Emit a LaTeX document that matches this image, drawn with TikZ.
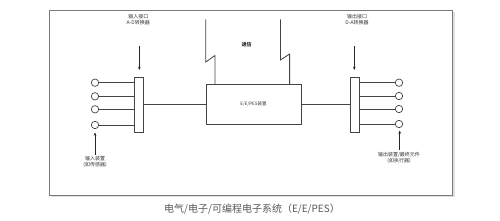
\documentclass[tikz,border=0pt]{standalone}
\usepackage{fontspec}
\setmainfont{Noto Sans CJK SC}
\newfontfamily\cjk{Noto Sans CJK SC}
\usetikzlibrary{arrows.meta}
\definecolor{ln}{HTML}{444444}
\definecolor{fr}{HTML}{7A7A7A}
\tikzset{
  wire/.style={draw=ln, line width=0.8pt},
  bar/.style={draw=ln, line width=0.8pt, fill=white, minimum width=9pt, minimum height=54.6pt, inner sep=0pt, outer sep=0pt},
  box/.style={draw=ln, line width=0.8pt, fill=white, minimum width=95pt, minimum height=40pt, inner sep=0pt, outer sep=0pt},
  term/.style={circle, draw=ln, line width=0.7pt, minimum size=7.4pt, inner sep=0pt, outer sep=0pt, fill=white},
  lbl/.style={font=\cjk\fontsize{5}{6}\selectfont, text=black!80, align=center, inner sep=0pt},
  arr/.style={draw=black!85, line width=0.7pt, -{Stealth[length=3.2pt,width=2.6pt]}},
}
\begin{document}
\begin{tikzpicture}[x=1pt,y=-1pt]
\useasboundingbox (0,0) rectangle (500,221);
\fill[white] (0,0) rectangle (500,221);
% shadow + frame
\fill[black!12] (51,12) rectangle (454.5,197);
\draw[fr, line width=0.9pt, fill=white] (49.3,10) rectangle (452.3,195);

% bars and box
\node[bar] (lbar) at (138.8,105) {};
\node[bar] (rbar) at (355,105) {};
\node[box] (core) at (253.5,104.3) {};
\node[lbl, font=\cjk\fontsize{4.5}{5}\selectfont] (corel) at (core.center) {E/E/PES装置};

% left terminals
\foreach \i/\yy in {1/82.7,2/96.3,3/109.3,4/125} {
  \node[term] (lt\i) at (95,\yy) {};
  \coordinate (lb\i) at (lbar.west |- lt\i);
  \draw[wire] (lt\i) -- (lb\i);
}
% right terminals
\foreach \i/\yy in {1/82.7,2/96,3/109,4/124} {
  \node[term] (rt\i) at (399,\yy) {};
  \coordinate (rb\i) at (rbar.east |- rt\i);
  \draw[wire] (rb\i) -- (rt\i);
}

% bar to core
\draw[wire] (lbar.east |- core.west) -- (core.west);
\draw[wire] (core.east) -- (rbar.west |- core.east);

% communication lines
\coordinate (c1a) at (205.8,19.3);
\coordinate (c1b) at (205.8,62);
\coordinate (c1c) at (215,55.5);
\coordinate (c2a) at (280.5,19.3);
\coordinate (c2b) at (280.5,60);
\coordinate (c2c) at (289.6,54);
\draw[wire] (c1a) -- (c1b) -- (c1c) -- (c1c |- core.north);
\draw[wire] (c2a) -- (c2b) -- (c2c) -- (c2c |- core.north);
\node[lbl, font=\cjk\bfseries\fontsize{5}{6}\selectfont] (comm) at (246.7,44.3) {通信};

% top labels and arrows
\node[lbl] (inif) at (138.3,19.2) {输入接口\\A-D转换器};
\coordinate (a1s) at (139.3,46);
\coordinate (a1e) at (139.3,70);
\draw[arr] (a1s) -- (a1e);
\node[lbl] (outif) at (357,19.2) {输出接口\\D-A转换器};
\coordinate (a2s) at (354.3,46);
\coordinate (a2e) at (354.3,70);
\draw[arr] (a2s) -- (a2e);

% bottom labels and arrows
\node[lbl] (indev) at (95,162.3) {输入装置\\(如传感器)};
\coordinate (a3s) at (95,155);
\coordinate (a3e) at (95,132.5);
\draw[arr] (a3s) -- (a3e);
\node[lbl] (outdev) at (399,158) {输出装置/最终元件\\(如执行器)};
\coordinate (a4s) at (399.7,150);
\coordinate (a4e) at (399.7,130.5);
\draw[arr] (a4s) -- (a4e);

% caption
\node[font=\cjk\fontsize{10}{12}\selectfont, text=black!65, inner sep=0pt] (cap) at (252,209.5) {电气/电子/可编程电子系统（E/E/PES）};
\end{tikzpicture}
\end{document}
